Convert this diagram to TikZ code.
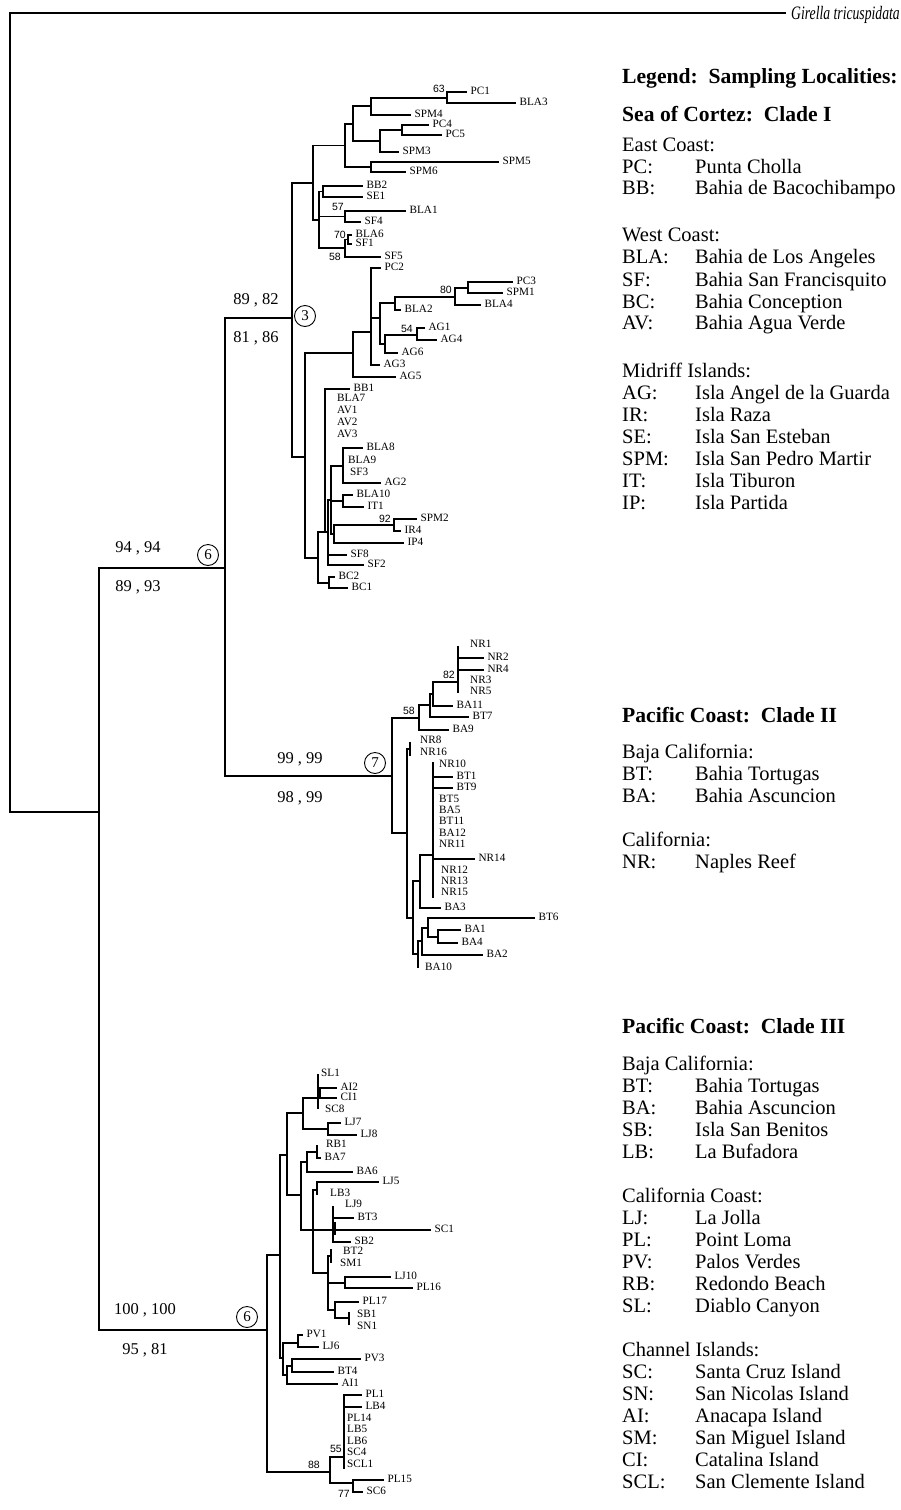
\documentclass[tikz,border=0pt]{standalone}
\usepackage{fontspec}
\setmainfont{Liberation Serif}
\newfontfamily\bootfont{Liberation Sans}
\newfontfamily\outfont[FakeStretch=0.72]{Liberation Serif}

% tree helpers: vertical bar, leaf with label, bare label, support value
\newcommand{\tvert}[3]{\draw[br] (#1,#2) -- (#1,#3);}
\newcommand{\thor}[3]{\draw[br] (#1,#3) -- (#2,#3);}
\newcommand{\tleaf}[4]{\draw[br] (#1,#3) -- (#2,#3) node[tiplab,xshift=4pt] (lf-#4) {#4};}
\newcommand{\tlab}[3]{\node[tiplab] (lf-#3) at (#1,#2) {#3};}
\newcommand{\tboot}[4]{\node[boot,anchor=#1] at (#2,#3) {#4};}
\newcommand{\tloc}[3]{%
  \node[lg] (ab-#2) at (622,#1) {#2:};
  \node[lg] (nm-#2) at (695,#1) {#3};}

\begin{document}
\begin{tikzpicture}[
  x=1pt,y=-1pt,
  line cap=rect,
  br/.style={draw=black,line width=1.2pt},
  tiplab/.style={anchor=base west,inner sep=0pt,yshift=-2pt,font=\fontsize{11.2}{12}\selectfont},
  boot/.style={inner sep=0pt,font=\bootfont\fontsize{10.5}{12}\selectfont},
  supp/.style={inner sep=0pt,font=\fontsize{16.5}{18}\selectfont},
  circ/.style={circle,draw,line width=0.9pt,minimum size=21pt,inner sep=0pt,font=\fontsize{15}{15}\selectfont},
  lg/.style={anchor=base west,inner sep=0pt,yshift=-6.5pt,font=\fontsize{20.5}{22}\selectfont},
  lgh/.style={lg,font=\fontsize{21.6}{22}\selectfont\bfseries}
]
\useasboundingbox (0,0) rectangle (900,1510);

% root and outgroup
\draw[br] (785,13) -- (10,13) -- (10,812) -- (99,812);
\node[anchor=base west,inner sep=0pt,yshift=-6pt,font=\outfont\itshape\fontsize{19}{20}\selectfont] (out) at (791,13) {Girella tricuspidata};
\tvert{99}{568}{1330}
\thor{99}{225}{568}
\thor{99}{267}{1330}
\tvert{225}{318}{776}
\thor{225}{292}{318}
\thor{225}{392}{776}

% support values and circled numbers
\node[supp] (s1a) at (138,548) {94 , 94};
\node[supp] (s1b) at (138,587) {89 , 93};
\node[circ] (c6a) at (208,555) {6};
\node[supp] (s2a) at (256,300) {89 , 82};
\node[supp] (s2b) at (256,338) {81 , 86};
\node[circ] (c3) at (305,316) {3};
\node[supp] (s3a) at (300,759) {99 , 99};
\node[supp] (s3b) at (300,798) {98 , 99};
\node[circ] (c7) at (375,763) {7};
\node[supp] (s4a) at (145,1310) {100 , 100};
\node[supp] (s4b) at (145,1350) {95 , 81};
\node[circ] (c6b) at (247,1317) {6};

% ---------------- Clade I ----------------
\tvert{292}{183}{457}
\thor{292}{313}{183}
\thor{292}{305}{457}
\tvert{313}{145.5}{220}
\thor{313}{345}{145.5}
\thor{313}{319}{220}
\tvert{345}{124}{167}
\thor{345}{353}{124}
\thor{345}{371}{167}
\tvert{353}{106}{141}
\thor{353}{371}{106}
\thor{353}{380}{141}
\tvert{371}{98}{115}
\thor{371}{447}{98}
\tleaf{371}{410}{115}{SPM4}
\tvert{447}{92}{103}
\tleaf{447}{466}{92}{PC1}
\tleaf{447}{515}{103}{BLA3}
\tboot{south east}{445}{93}{63}
\tvert{380}{130}{152}
\thor{380}{402}{130}
\tleaf{380}{398}{152}{SPM3}
\tvert{402}{125}{135}
\tleaf{402}{428}{125}{PC4}
\tleaf{402}{441}{135}{PC5}
\tvert{371}{162}{172}
\tleaf{371}{498}{162}{SPM5}
\tleaf{371}{405}{172}{SPM6}

\tvert{319}{191.5}{248}
\thor{319}{323}{191.5}
\thor{319}{345}{216.5}
\thor{319}{345}{248}
\tvert{323}{186}{197}
\tleaf{323}{362}{186}{BB2}
\tleaf{323}{362}{197}{SE1}
\tvert{345}{211}{222}
\tleaf{345}{405}{211}{BLA1}
\tleaf{345}{360}{222}{SF4}
\tboot{south east}{344}{211}{57}
\tvert{345}{239.5}{257}
\thor{345}{348}{239.5}
\tleaf{345}{380}{257}{SF5}
\tboot{east}{341}{257}{58}
\tvert{348}{235}{244}
\tleaf{348}{351}{235}{BLA6}
\tleaf{348}{351}{244}{SF1}
\tboot{south east}{346}{239}{70}

\tvert{305}{353}{558}
\thor{305}{353}{353}
\thor{305}{318}{558}
\tvert{353}{332}{377}
\thor{353}{371}{332}
\tleaf{353}{395}{377}{AG5}
\tvert{371}{268}{365}
\tleaf{371}{380}{268}{PC2}
\thor{371}{380}{318}
\tleaf{371}{379}{365}{AG3}
\tvert{380}{303}{344}
\thor{380}{395}{303}
\thor{380}{385}{344}
\tvert{395}{297}{310}
\thor{395}{455}{297}
\tleaf{395}{400}{310}{BLA2}
\tvert{455}{288}{305}
\thor{455}{468}{288}
\tleaf{455}{480}{305}{BLA4}
\tboot{south east}{452}{294}{80}
\tvert{468}{282}{293}
\tleaf{468}{512}{282}{PC3}
\tleaf{468}{502}{293}{SPM1}
\tvert{385}{335}{353}
\thor{385}{417}{335}
\tleaf{385}{397}{353}{AG6}
\tvert{417}{328}{340}
\tleaf{417}{424}{328}{AG1}
\tleaf{417}{436}{340}{AG4}
\tboot{south east}{413}{333}{54}

\tvert{318}{532}{583}
\thor{318}{325}{532}
\thor{318}{329}{583}
\tvert{329}{577}{588}
\tleaf{329}{334}{577}{BC2}
\tleaf{329}{347}{588}{BC1}
\tvert{325}{389}{532}
\tleaf{325}{349}{389}{BB1}
\tlab{337}{399}{BLA7}
\tlab{337}{411}{AV1}
\tlab{337}{423}{AV2}
\tlab{337}{435}{AV3}
\thor{325}{328}{532}
\tvert{328}{500}{565}
\thor{328}{331}{500}
\tleaf{328}{346}{555}{SF8}
\tleaf{328}{363}{565}{SF2}
\tvert{331}{466}{534}
\thor{331}{343}{466}
\thor{331}{343}{501}
\thor{331}{334}{534}
\tvert{343}{448}{483}
\tleaf{343}{362}{448}{BLA8}
\tlab{348}{461}{BLA9}
\tlab{350}{473}{SF3}
\tleaf{343}{380}{483}{AG2}
\tvert{343}{495}{507}
\tleaf{343}{352}{495}{BLA10}
\tleaf{343}{363}{507}{IT1}
\tvert{334}{525}{543}
\thor{334}{394}{525}
\tleaf{334}{403}{543}{IP4}
\tvert{394}{519}{531}
\tleaf{394}{416}{519}{SPM2}
\tleaf{394}{400}{531}{IR4}
\tboot{south east}{391}{523}{92}

% ---------------- Clade II ----------------
\tvert{392}{718}{833}
\thor{392}{419}{718}
\thor{392}{407}{833}
\tvert{419}{705}{730}
\thor{419}{430}{705}
\tleaf{419}{448}{730}{BA9}
\tboot{south east}{415}{715}{58}
\tvert{430}{694}{717}
\thor{430}{433}{694}
\tleaf{430}{468}{717}{BT7}
\tvert{433}{682}{706}
\thor{433}{458}{682}
\tleaf{433}{452}{706}{BA11}
\tvert{458}{647}{692}
\tlab{470}{645}{NR1}
\tleaf{458}{483}{658}{NR2}
\tleaf{458}{483}{670}{NR4}
\tlab{470}{681}{NR3}
\tlab{470}{692}{NR5}
\tboot{south east}{455}{679}{82}

\tvert{407}{749}{918}
\thor{407}{410}{749}
\thor{407}{413}{918}
\tvert{410}{743}{755}
\tlab{420}{741}{NR8}
\tlab{420}{753}{NR16}
\tvert{413}{881}{954}
\thor{413}{420}{881}
\thor{413}{418}{954}
\tvert{420}{855}{908}
\thor{420}{433}{855}
\tleaf{420}{440}{908}{BA3}
\tvert{433}{763}{897}
\tlab{439}{765}{NR10}
\tleaf{433}{452}{777}{BT1}
\tleaf{433}{452}{788}{BT9}
\tlab{439}{800}{BT5}
\tlab{439}{811}{BA5}
\tlab{439}{822}{BT11}
\tlab{439}{834}{BA12}
\tlab{439}{845}{NR11}
\tleaf{433}{474}{859}{NR14}
\tlab{441}{871}{NR12}
\tlab{441}{882}{NR13}
\tlab{441}{893}{NR15}
\tvert{418}{941}{967}
\thor{418}{422}{941}
\tlab{425}{968}{BA10}
\tvert{422}{928}{955}
\thor{422}{428}{928}
\tleaf{422}{482}{955}{BA2}
\tvert{428}{918}{937}
\tleaf{428}{534}{918}{BT6}
\thor{428}{438}{937}
\tvert{438}{930}{943}
\tleaf{438}{460}{930}{BA1}
\tleaf{438}{457}{943}{BA4}

% ---------------- Clade III ----------------
\tvert{267}{1255}{1472}
\thor{267}{280}{1255}
\thor{267}{330}{1472}
\tboot{south east}{320}{1469}{88}
\tvert{330}{1457}{1483}
\thor{330}{344}{1457}
\thor{330}{353}{1483}
\tboot{south east}{342}{1453}{55}
\tboot{north east}{350}{1490}{77}
\tvert{344}{1395}{1468}
\tleaf{344}{361}{1395}{PL1}
\tleaf{344}{361}{1407}{LB4}
\tlab{347}{1419}{PL14}
\tlab{347}{1430}{LB5}
\tlab{347}{1442}{LB6}
\tlab{347}{1453}{SC4}
\tlab{347}{1465}{SCL1}
\tvert{353}{1480}{1492}
\tleaf{353}{383}{1480}{PL15}
\tleaf{353}{362}{1492}{SC6}

\tvert{280}{1155}{1358}
\thor{280}{287}{1155}
\thor{280}{283}{1358}
\tvert{287}{1113}{1195}
\thor{287}{303}{1113}
\thor{287}{301}{1195}
\tvert{303}{1098}{1129}
\thor{303}{318}{1098}
\thor{303}{328}{1129}
\tvert{318}{1075}{1108}
\tlab{321}{1074}{SL1}
\thor{318}{320}{1093}
\tlab{325}{1110}{SC8}
\tvert{320}{1088}{1098}
\tleaf{320}{336}{1088}{AI2}
\tleaf{320}{336}{1098}{CI1}
\tvert{328}{1123}{1135}
\tleaf{328}{340}{1123}{LJ7}
\tleaf{328}{356}{1135}{LJ8}
\tvert{301}{1162}{1230}
\thor{301}{307}{1162}
\thor{301}{333}{1230}
\tvert{307}{1152}{1172}
\thor{307}{317}{1152}
\tleaf{307}{352}{1172}{BA6}
\tvert{317}{1146}{1158}
\tlab{326}{1145}{RB1}
\tleaf{317}{320}{1158}{BA7}
\tvert{313}{1190}{1273}
\thor{313}{317}{1190}
\thor{313}{328}{1273}
\tvert{317}{1182}{1194}
\tleaf{317}{378}{1182}{LJ5}
\tlab{330}{1194}{LB3}
\tvert{333}{1207}{1242}
\fill (331.5,1222) rectangle (336,1235);
\tlab{345}{1205}{LJ9}
\tleaf{333}{353}{1218}{BT3}
\tleaf{333}{430}{1230}{SC1}
\tleaf{333}{350}{1242}{SB2}
\tvert{328}{1256}{1310}
\thor{328}{331}{1256}
\thor{328}{345}{1283}
\thor{328}{335}{1310}
\tvert{331}{1250}{1262}
\tlab{343}{1252}{BT2}
\tlab{340}{1264}{SM1}
\tvert{345}{1277}{1288}
\tleaf{345}{390}{1277}{LJ10}
\tleaf{345}{412}{1288}{PL16}
\tvert{335}{1302}{1318}
\tleaf{335}{358}{1302}{PL17}
\thor{335}{349}{1318}
\tvert{349}{1313}{1324}
\tlab{357}{1315}{SB1}
\tlab{357}{1327}{SN1}
\tvert{283}{1343}{1375}
\thor{283}{298}{1343}
\thor{283}{287}{1375}
\tvert{298}{1335}{1347}
\tleaf{298}{302}{1335}{PV1}
\tleaf{298}{318}{1347}{LJ6}
\tvert{287}{1366}{1384}
\thor{287}{292}{1366}
\tleaf{287}{337}{1384}{AI1}
\tvert{292}{1359}{1372}
\tleaf{292}{360}{1359}{PV3}
\tleaf{292}{333}{1372}{BT4}

% ---------------- Legend ----------------
\node[lgh] (lg0) at (622,77) {Legend:\ \ Sampling Localities:};
\node[lgh] (lg1) at (622,115) {Sea of Cortez:\ \ Clade I};
\node[lg] (g1) at (622,145) {East Coast:};
\tloc{167}{PC}{Punta Cholla}
\tloc{188}{BB}{Bahia de Bacochibampo}
\node[lg] (g2) at (622,235) {West Coast:};
\tloc{257}{BLA}{Bahia de Los Angeles}
\tloc{280}{SF}{Bahia San Francisquito}
\tloc{302}{BC}{Bahia Conception}
\tloc{323}{AV}{Bahia Agua Verde}
\node[lg] (g3) at (622,371) {Midriff Islands:};
\tloc{393}{AG}{Isla Angel de la Guarda}
\tloc{415}{IR}{Isla Raza}
\tloc{437}{SE}{Isla San Esteban}
\tloc{459}{SPM}{Isla San Pedro Martir}
\tloc{481}{IT}{Isla Tiburon}
\tloc{503}{IP}{Isla Partida}

\node[lgh] (lg2) at (622,716) {Pacific Coast:\ \ Clade II};
\node[lg] (g4) at (622,752) {Baja California:};
\tloc{774}{BT}{Bahia Tortugas}
\tloc{796}{BA}{Bahia Ascuncion}
\node[lg] (g5) at (622,840) {California:};
\tloc{862}{NR}{Naples Reef}

\node[lgh] (lg3) at (622,1027) {Pacific Coast:\ \ Clade III};
\node[lg] (g6) at (622,1064) {Baja California:};
\tloc{1086}{BT}{Bahia Tortugas}
\tloc{1108}{BA}{Bahia Ascuncion}
\tloc{1130}{SB}{Isla San Benitos}
\tloc{1152}{LB}{La Bufadora}
\node[lg] (g7) at (622,1196) {California Coast:};
\tloc{1218}{LJ}{La Jolla}
\tloc{1240}{PL}{Point Loma}
\tloc{1262}{PV}{Palos Verdes}
\tloc{1284}{RB}{Redondo Beach}
\tloc{1306}{SL}{Diablo Canyon}
\node[lg] (g8) at (622,1350) {Channel Islands:};
\tloc{1372}{SC}{Santa Cruz Island}
\tloc{1394}{SN}{San Nicolas Island}
\tloc{1416}{AI}{Anacapa Island}
\tloc{1438}{SM}{San Miguel Island}
\tloc{1460}{CI}{Catalina Island}
\tloc{1482}{SCL}{San Clemente Island}
\end{tikzpicture}
\end{document}
